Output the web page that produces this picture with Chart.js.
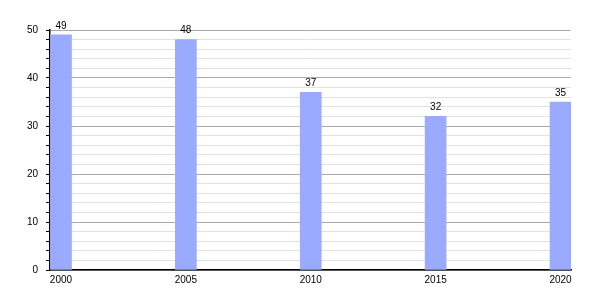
<!DOCTYPE html>
<html>
<head>
<meta charset="utf-8">
<script src="https://cdn.jsdelivr.net/npm/chart.js@4"></script>
<style>
  html, body { margin: 0; padding: 0; background: #fff; }
  #wrap { width: 600px; height: 300px; }
</style>
</head>
<body>
<div id="wrap"><canvas id="myChart"></canvas></div>
<script>
const years = [2000, 2005, 2010, 2015, 2020];
const values = [49, 48, 37, 32, 35];
const yMax = 50;

const ctx = document.getElementById("myChart");

//draws the number above each bar
const valueLabels = {
  id: "valueLabels",
  afterDatasetsDraw(chart) {
    const c = chart.ctx;
    const meta = chart.getDatasetMeta(0);
    c.save();
    c.font = "10px 'Liberation Sans'";
    c.fillStyle = "#000";
    c.textAlign = "center";
    c.textBaseline = "bottom";
    meta.data.forEach((bar, i) => {
      c.fillText(values[i], bar.x, bar.y - 4);
    });
    c.restore();
  },
};

const myChart = new Chart(ctx, {
  type: "bar",
  data: {
    datasets: [
      {
        data: years.map((y, i) => ({ x: y, y: values[i] })),
        backgroundColor: "#99aaff",
        barThickness: 21,
      },
    ],
  },
  options: {
    responsive: true,
    maintainAspectRatio: false,
    animation: false,
    layout: { padding: { left: 0, top: 30, right: 29, bottom: 0 } },
    plugins: {
      legend: { display: false },
      tooltip: { enabled: false },
    },
    scales: {
      x: {
        type: "linear",
        offset: false,
        min: 1999.56,
        max: 2020.42,
        afterBuildTicks: (scale) => {
          scale.ticks = years.map((v) => ({ value: v }));
        },
        afterFit: (scale) => {
          scale.height = 30;
        },
        grid: { display: false, offset: false, drawTicks: false },
        border: { display: true, color: "#000", width: 1.5 },
        ticks: {
          autoSkip: false,
          maxRotation: 0,
          padding: 4,
          color: "#000",
          font: { family: "Liberation Sans", size: 10 },
          callback: (v) => String(v),
        },
      },
      y: {
        min: 0,
        max: yMax,
        afterFit: (scale) => {
          scale.width = 50;
        },
        grid: {
          color: (c) => (c.tick.value % 10 === 0 ? "#aaaaaa" : "#e2e2e2"),
          tickColor: "#000",
          tickLength: 4,
        },
        border: { display: true, color: "#000", width: 1.5 },
        ticks: {
          stepSize: 2,
          autoSkip: false,
          padding: 8,
          color: "#000",
          font: { family: "Liberation Sans", size: 10 },
          callback: (v) => (v % 10 === 0 ? v : ""),
        },
      },
    },
  },
  plugins: [valueLabels],
});
</script>
</body>
</html>
